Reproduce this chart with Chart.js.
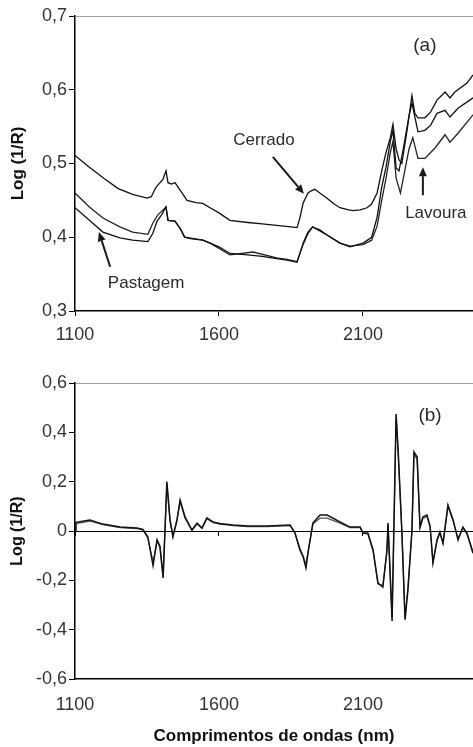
<!DOCTYPE html>
<html>
<head>
<meta charset="utf-8">
<script src="https://cdn.jsdelivr.net/npm/chart.js@4.4.0/dist/chart.umd.min.js"></script>
<style>
  html, body { margin: 0; padding: 0; background: #fff; }
  #boxA { position: absolute; left: 0; top: 0; }
  #boxB { position: absolute; left: 0; top: 345px; }
</style>
</head>
<body>
<div id="boxA"><canvas id="chartA" width="473" height="345"></canvas></div>
<div id="boxB"><canvas id="chartB" width="473" height="402"></canvas></div>
<script>
// ---- panel (a): spectra ----
const cerradoNm = [1100,1150,1200,1250,1300,1350,1365,1380,1395,1405,1416,1423,1435,1447,1465,1489,1520,1544,1569,1600,1638,1700,1750,1800,1850,1871,1880,1892,1909,1920,1933,1950,1975,2000,2020,2050,2065,2090,2114,2130,2149,2165,2180,2195,2204,2215,2225,2235,2253,2270,2280,2291,2315,2335,2357,2385,2402,2419,2461,2482];
const cerradoLog = [0.511,0.495,0.480,0.466,0.458,0.453,0.455,0.467,0.474,0.478,0.490,0.474,0.472,0.474,0.464,0.450,0.447,0.446,0.440,0.433,0.423,0.420,0.418,0.416,0.414,0.413,0.425,0.446,0.460,0.463,0.465,0.460,0.453,0.445,0.440,0.437,0.436,0.437,0.440,0.445,0.460,0.490,0.515,0.535,0.553,0.520,0.505,0.500,0.545,0.592,0.568,0.562,0.562,0.570,0.586,0.597,0.589,0.597,0.609,0.620];

const pastagemNm = [1100,1150,1197,1256,1300,1353,1370,1385,1400,1416,1423,1447,1465,1480,1500,1544,1569,1600,1638,1700,1750,1800,1836,1871,1892,1909,1925,1950,1975,2020,2055,2100,2130,2149,2165,2180,2195,2204,2215,2225,2240,2260,2270,2291,2315,2335,2357,2385,2402,2430,2482];
const pastagemLog = [0.440,0.423,0.407,0.399,0.396,0.394,0.405,0.422,0.430,0.441,0.423,0.422,0.412,0.400,0.398,0.396,0.392,0.387,0.378,0.376,0.374,0.371,0.369,0.366,0.392,0.407,0.414,0.410,0.403,0.392,0.387,0.392,0.400,0.427,0.468,0.495,0.530,0.545,0.494,0.490,0.520,0.565,0.582,0.543,0.545,0.552,0.568,0.572,0.563,0.575,0.589];

const lavouraNm = [1100,1150,1197,1256,1300,1353,1370,1387,1416,1423,1447,1465,1482,1544,1569,1638,1718,1800,1836,1871,1892,1909,1925,1975,2020,2055,2100,2130,2149,2165,2180,2195,2204,2215,2230,2245,2260,2273,2291,2315,2350,2385,2402,2430,2482];
const lavouraLog = [0.460,0.441,0.426,0.414,0.407,0.404,0.419,0.430,0.441,0.423,0.422,0.412,0.400,0.396,0.392,0.376,0.380,0.372,0.370,0.367,0.390,0.405,0.414,0.403,0.392,0.388,0.390,0.396,0.415,0.450,0.480,0.515,0.530,0.480,0.460,0.490,0.520,0.535,0.507,0.507,0.521,0.539,0.529,0.541,0.566];

// ---- panel (b): derivative spectra ----
const derivNm = [1100,1103,1152,1197,1256,1315,1336,1353,1371,1385,1395,1406,1419,1430,1440,1454,1465,1482,1506,1524,1541,1558,1579,1603,1649,1700,1767,1847,1864,1881,1892,1902,1909,1926,1951,1975,2020,2055,2090,2100,2117,2135,2152,2169,2183,2187,2201,2215,2222,2235,2246,2256,2270,2277,2288,2298,2308,2322,2333,2343,2357,2367,2378,2395,2413,2430,2447,2461,2482];
const derivA = [0.0,0.035,0.045,0.028,0.016,0.012,0.006,-0.024,-0.140,-0.036,-0.065,-0.190,0.200,0.045,-0.024,0.045,0.126,0.057,0.004,0.032,0.012,0.053,0.037,0.030,0.024,0.020,0.020,0.024,-0.008,-0.077,-0.105,-0.150,-0.090,0.032,0.065,0.065,0.037,0.016,0.016,-0.008,-0.008,-0.077,-0.211,-0.227,-0.080,0.032,-0.365,0.474,0.328,0.000,-0.360,-0.240,0.000,0.320,0.300,0.016,0.057,0.065,0.020,-0.130,-0.036,-0.004,-0.049,0.105,0.045,-0.036,0.016,-0.008,-0.090];
const derivB = [0.0,0.030,0.040,0.026,0.014,0.010,0.004,-0.030,-0.125,-0.040,-0.060,-0.180,0.190,0.040,-0.020,0.040,0.118,0.052,0.002,0.028,0.010,0.050,0.034,0.028,0.022,0.018,0.018,0.022,-0.010,-0.070,-0.100,-0.135,-0.085,0.028,0.052,0.052,0.032,0.014,0.014,-0.010,-0.012,-0.080,-0.215,-0.220,-0.085,0.025,-0.350,0.460,0.320,-0.005,-0.350,-0.230,0.005,0.310,0.290,0.012,0.050,0.060,0.015,-0.125,-0.040,-0.010,-0.050,0.098,0.040,-0.030,0.012,-0.012,-0.085];

const xTicks = [1100, 1600, 2100];
const topYTicks = [0.3, 0.4, 0.5, 0.6, 0.7];
const botYTicks = [-0.6, -0.4, -0.2, 0, 0.2, 0.4, 0.6];

// annotations in data units
const topNotes = [
  { text: 'Cerrado', x: 1756, y: 0.532 },
  { text: 'Lavoura', x: 2353, y: 0.433 },
  { text: 'Pastagem', x: 1347, y: 0.338 },
  { text: '(a)', x: 2315, y: 0.659, size: 19 }
];
const topArrows = [
  { from: [1787, 0.509], to: [1895, 0.459] },
  { from: [2308, 0.457], to: [2308, 0.495] },
  { from: [1222, 0.360], to: [1183, 0.407] }
];
const botNotes = [{ text: '(b)', x: 2333, y: 0.466, size: 19 }];

const pairs = (xs, ys) => xs.map((x, i) => ({ x: x, y: ys[i] }));
const fmt = v => v === 0 ? '0' : v.toFixed(1).replace('.', ',');
const FONT = 'Liberation Sans, Arial, sans-serif';

const notesPlugin = {
  id: 'notes',
  afterDatasetsDraw(chart, args, opts) {
    const { ctx, scales } = chart;
    const sx = scales.x, sy = scales.y;
    ctx.save();
    ctx.fillStyle = '#2b2b2b';
    ctx.strokeStyle = '#1a1a1a';
    ctx.textAlign = 'center';
    ctx.textBaseline = 'middle';
    (opts.notes || []).forEach(n => {
      ctx.font = (n.size || 17) + 'px ' + FONT;
      ctx.fillText(n.text, sx.getPixelForValue(n.x), sy.getPixelForValue(n.y));
    });
    (opts.arrows || []).forEach(a => {
      const x1 = sx.getPixelForValue(a.from[0]), y1 = sy.getPixelForValue(a.from[1]);
      const x2 = sx.getPixelForValue(a.to[0]), y2 = sy.getPixelForValue(a.to[1]);
      const ang = Math.atan2(y2 - y1, x2 - x1);
      const hl = 9, hw = 4;
      ctx.lineWidth = 2;
      ctx.beginPath();
      ctx.moveTo(x1, y1);
      ctx.lineTo(x2 - hl * Math.cos(ang), y2 - hl * Math.sin(ang));
      ctx.stroke();
      ctx.beginPath();
      ctx.moveTo(x2, y2);
      ctx.lineTo(x2 - hl * Math.cos(ang) + hw * Math.sin(ang), y2 - hl * Math.sin(ang) - hw * Math.cos(ang));
      ctx.lineTo(x2 - hl * Math.cos(ang) - hw * Math.sin(ang), y2 - hl * Math.sin(ang) + hw * Math.cos(ang));
      ctx.closePath();
      ctx.fillStyle = '#1a1a1a';
      ctx.fill();
      ctx.fillStyle = '#2b2b2b';
    });
    ctx.restore();
  }
};

function line(label, data, color, width) {
  return { label: label, data: data, borderColor: color, borderWidth: width,
           pointRadius: 0, tension: 0, fill: false };
}

function yAxis(ticks, min, max, topVal, titleSize) {
  return {
    type: 'linear', min: min, max: max,
    afterBuildTicks: s => { s.ticks = ticks.map(v => ({ value: v })); },
    afterFit: s => { s.width = 71; },
    border: { color: '#000', width: 1.5 },
    grid: {
      color: c => (c.tick && c.tick.value === topVal) ? '#a0a0a0' : 'rgba(0,0,0,0)',
      tickColor: '#000', tickLength: 6, lineWidth: 1
    },
    ticks: { callback: v => fmt(v), color: '#333', padding: 2, font: { family: FONT, size: 18 } },
    title: { display: true, text: 'Log (1/R)', color: '#111', padding: { top: 4, bottom: 0 },
             font: { family: FONT, size: titleSize, weight: 'bold' } }
  };
}

new Chart('chartA', {
  type: 'line',
  data: {
    datasets: [
      line('Cerrado', pairs(cerradoNm, cerradoLog), '#111', 1.3),
      line('Pastagem', pairs(pastagemNm, pastagemLog), '#111', 1.3),
      line('Lavoura', pairs(lavouraNm, lavouraLog), '#222', 1.3)
    ]
  },
  options: {
    responsive: false, animation: false,
    layout: { padding: { top: 16, left: 4, right: 0, bottom: 0 } },
    plugins: { legend: { display: false }, tooltip: { enabled: false },
               notes: { notes: topNotes, arrows: topArrows } },
    scales: {
      x: {
        type: 'linear', min: 1100, max: 2482,
        afterBuildTicks: s => { s.ticks = xTicks.map(v => ({ value: v })); },
        afterFit: s => { s.height = 34; },
        border: { color: '#000', width: 1.5 },
        grid: { drawOnChartArea: false, tickColor: '#000', tickLength: 5 },
        ticks: { callback: v => String(v), color: '#333', padding: 8, maxRotation: 0, font: { family: FONT, size: 18 } }
      },
      y: yAxis(topYTicks, 0.3, 0.7, 0.7, 17)
    }
  },
  plugins: [notesPlugin]
});

new Chart('chartB', {
  type: 'line',
  data: {
    datasets: [
      line('A', pairs(derivNm, derivA), '#111', 1.5),
      line('B', pairs(derivNm, derivB), '#555', 1.2)
    ]
  },
  options: {
    responsive: false, animation: false,
    layout: { padding: { top: 38, left: 4, right: 0, bottom: 0 } },
    plugins: { legend: { display: false }, tooltip: { enabled: false },
               notes: { notes: botNotes, arrows: [] } },
    scales: {
      x: {
        type: 'linear', min: 1100, max: 2482,
        afterBuildTicks: s => { s.ticks = xTicks.map(v => ({ value: v })); },
        afterFit: s => { s.height = 68; },
        border: { color: '#000', width: 1.5 },
        grid: { drawOnChartArea: false, drawTicks: false },
        ticks: { callback: v => String(v), color: '#333', padding: 15, maxRotation: 0, font: { family: FONT, size: 18 } },
        title: { display: true, text: 'Comprimentos de ondas (nm)', color: '#111',
                 padding: { top: 0, bottom: 0 }, font: { family: FONT, size: 17, weight: 'bold' } }
      },
      x0: {
        type: 'linear', position: { y: 0 }, min: 1100, max: 2482,
        afterBuildTicks: s => { s.ticks = xTicks.map(v => ({ value: v })); },
        border: { color: '#000', width: 1 },
        grid: { drawOnChartArea: false, tickColor: '#000', tickLength: 4 },
        ticks: { display: false }
      },
      y: yAxis(botYTicks, -0.6, 0.6, 0.6, 16)
    }
  },
  plugins: [notesPlugin]
});
</script>
</body>
</html>
